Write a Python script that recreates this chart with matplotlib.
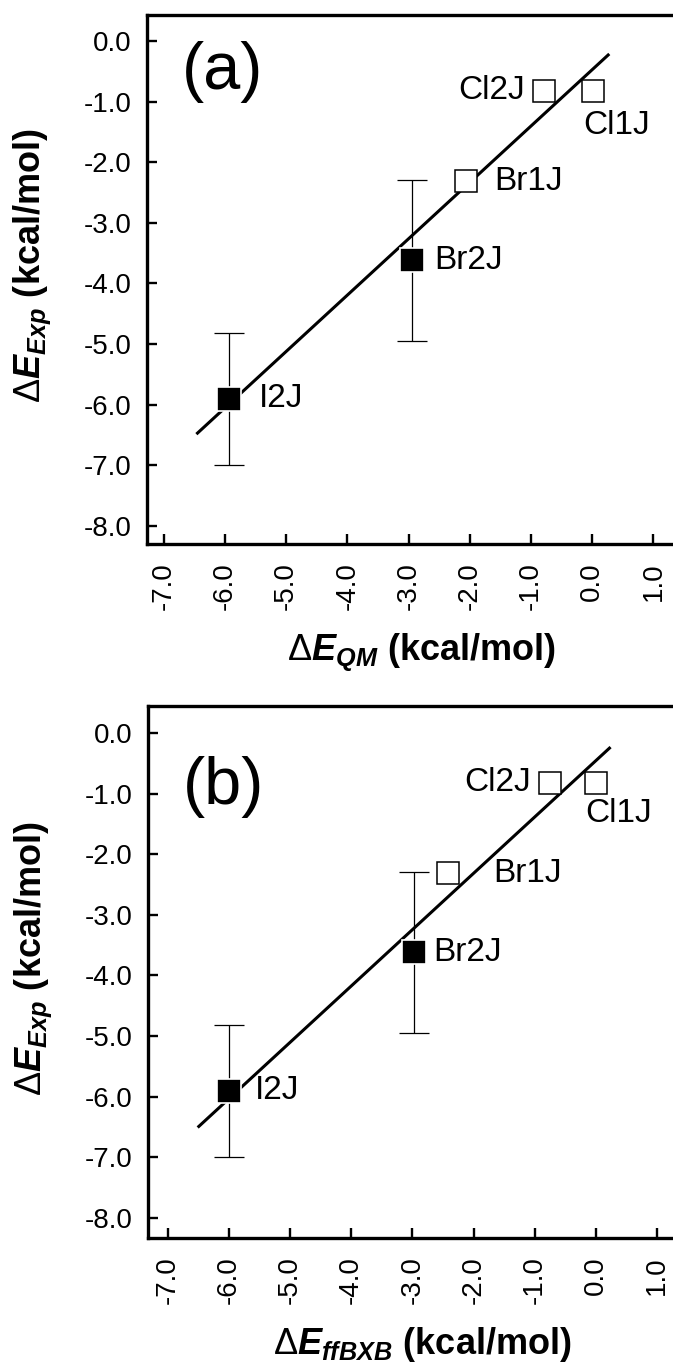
import numpy as np
import matplotlib
matplotlib.use("Agg")
from matplotlib import pyplot as plt

plt.rcParams['font.family'] = ['Liberation Sans', 'DejaVu Sans']
plt.rcParams['mathtext.fontset'] = 'custom'
plt.rcParams['mathtext.rm'] = 'Liberation Sans'
plt.rcParams['mathtext.it'] = 'Liberation Sans:italic'
plt.rcParams['mathtext.bf'] = 'Liberation Sans:bold'
plt.rcParams['mathtext.bfit'] = 'Liberation Sans:italic:bold'

# data
names = ["I2J", "Br2J", "Br1J", "Cl2J", "Cl1J"]
filled = [True, True, False, False, False]
e_exp = [-5.90, -3.62, -2.31, -0.82, -0.82]
e_exp_err = [1.09, 1.33, 0.0, 0.0, 0.0]
e_qm = [-5.93, -2.94, -2.07, -0.79, 0.01]
e_ffbxb = [-6.00, -2.97, -2.41, -0.75, 0.00]
fit_qm_x = [-6.45, 0.26]
fit_qm_y = [-6.47, -0.23]
fit_ff_x = [-6.49, 0.22]
fit_ff_y = [-6.49, -0.25]
tick_vals = [-7.0, -6.0, -5.0, -4.0, -3.0, -2.0, -1.0, 0.0, 1.0]
ytick_vals = [0.0, -1.0, -2.0, -3.0, -4.0, -5.0, -6.0, -7.0, -8.0]

# label offsets in points (dx, dy, ha)
offs_a = {"I2J": (21, 0, "left"), "Br2J": (16, 0, "left"), "Br1J": (21, 0, "left"),
          "Cl2J": (-14, 0, "right"), "Cl1J": (-7, -25, "left")}
offs_b = {"I2J": (19, 0, "left"), "Br2J": (14, 0, "left"), "Br1J": (32, 0, "left"),
          "Cl2J": (-14, 0, "right"), "Cl1J": (-8, -22, "left")}


def panel(ax, xv, fx, fy, tag, tag_y, xlab, xlab_y, offs, x0):
    ax.plot(fx, fy, color="black", lw=2.2, zorder=2)
    for i in range(len(names)):
        if filled[i]:
            ax.errorbar(xv[i], e_exp[i], yerr=e_exp_err[i], fmt="none", ecolor="black",
                        elinewidth=0.9, capsize=11, capthick=0.9, zorder=3)
            ax.plot(xv[i], e_exp[i], "s", ms=17, mfc="black", mec="white", mew=1.2, zorder=4)
        else:
            ax.plot(xv[i], e_exp[i], "s", ms=15.5, mfc="white", mec="black", mew=1.1, zorder=4)
        dx, dy, ha = offs[names[i]]
        ax.annotate(names[i], (xv[i], e_exp[i]), xytext=(dx, dy), textcoords="offset points",
                    ha=ha, va="center", fontsize=24)
    ax.text(0.066, tag_y, tag, transform=ax.transAxes, fontsize=48, va="center", ha="left")
    ax.set_xlim(x0, x0 + 533.3 / 61.2)
    ax.set_xticks(tick_vals)
    ax.set_xticklabels(["%.1f" % v for v in tick_vals], rotation=90)
    ax.set_yticks(ytick_vals)
    ax.set_yticklabels(["%.1f" % v for v in ytick_vals])
    ax.tick_params(axis="both", direction="in", labelsize=20, width=1.7, length=7.2)
    ax.tick_params(axis="x", pad=13)
    ax.tick_params(axis="y", pad=11)
    for s in ["top", "left", "bottom"]:
        ax.spines[s].set_linewidth(2.4)
    ax.spines["right"].set_visible(False)
    ax.set_xlabel(xlab, fontsize=26, fontweight="bold")
    ax.xaxis.set_label_coords(0.515, xlab_y)
    ax.set_ylabel(r"$\Delta\mathbfit{E}_{\mathbfit{Exp}}$ (kcal/mol)", fontsize=26, fontweight="bold")
    ax.yaxis.set_label_coords(-0.176, 0.526)


fig = plt.figure(figsize=(6.73, 13.7), dpi=100)
ax1 = fig.add_axes([146.7 / 673, 826 / 1370, 533.3 / 673, 529 / 1370])
ax2 = fig.add_axes([148 / 673, 132 / 1370, 533.3 / 673, 532 / 1370])

panel(ax1, e_qm, fit_qm_x, fit_qm_y, "(a)", 0.892,
      r"$\Delta\mathbfit{E}_{\mathbfit{QM}}$ (kcal/mol)", -0.166, offs_a, -7.28)
ax1.set_ylim(-8.30, 0.43)
panel(ax2, e_ffbxb, fit_ff_x, fit_ff_y, "(b)", 0.848,
      r"$\Delta\mathbfit{E}_{\mathbfit{ffBXB}}$ (kcal/mol)", -0.164, offs_b, -7.32)
ax2.set_ylim(-8.33, 0.445)

fig.savefig("out.png", dpi=100)
